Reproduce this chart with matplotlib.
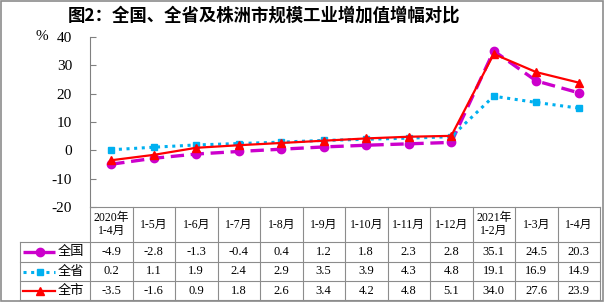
import matplotlib
matplotlib.use("Agg")
import matplotlib.pyplot as plt
from matplotlib.lines import Line2D
from matplotlib.patches import Rectangle
from matplotlib.transforms import blended_transform_factory

plt.rcParams['font.family'] = ['Liberation Serif', 'Noto Sans CJK SC', 'DejaVu Sans']

categories = ["2020年\n1-4月", "1-5月", "1-6月", "1-7月", "1-8月", "1-9月", "1-10月",
              "1-11月", "1-12月", "2021年\n1-2月", "1-3月", "1-4月"]
series_names = ["全国", "全省", "全市"]
national = [-4.9, -2.8, -1.3, -0.4, 0.4, 1.2, 1.8, 2.3, 2.8, 35.1, 24.5, 20.3]
province = [0.2, 1.1, 1.9, 2.4, 2.9, 3.5, 3.9, 4.3, 4.8, 19.1, 16.9, 14.9]
city = [-3.5, -1.6, 0.9, 1.8, 2.6, 3.4, 4.2, 4.8, 5.1, 34.0, 27.6, 23.9]
yticks = [-20, -10, 0, 10, 20, 30, 40]
title = "图2：全国、全省及株洲市规模工业增加值增幅对比"

W, H = 604, 302
fig = plt.figure(figsize=(W / 100, H / 100), dpi=100)

def fx(x):
    return x / W

def fy(y):
    return 1 - y / H

ax_l, ax_r, ax_t, ax_b = 90, 600, 37, 207
ax = fig.add_axes([fx(ax_l), fy(ax_b), (ax_r - ax_l) / W, (ax_b - ax_t) / H])
n = len(categories)
xs = list(range(n))

styles = [
    dict(color='#CC00CC', linestyle=(0, (4, 2)), linewidth=2.4, marker='o', markersize=6),
    dict(color='#00B0F0', linestyle=(0, (1, 1.5)), linewidth=2.2, marker='s', markersize=5),
    dict(color='#FF0000', linestyle='-', linewidth=1.6, marker='^', markersize=6),
]
data = [national, province, city]
for vals, st in zip(data, styles):
    ax.plot(xs, vals, color=st['color'], linestyle=st['linestyle'], linewidth=st['linewidth'],
            marker=st['marker'], markersize=st['markersize'], markerfacecolor=st['color'],
            markeredgecolor=st['color'], clip_on=False, zorder=3)

ax.set_xlim(-0.5, n - 0.5)
ax.set_ylim(-20, 40)
ax.set_yticks(yticks)
ax.set_yticklabels([str(v) for v in yticks], fontsize=11)
ax.tick_params(axis='y', direction='in', length=4, width=0.8, color='#808080', pad=13)
ax.set_xticks([])
for s in ['top', 'right', 'bottom']:
    ax.spines[s].set_visible(False)
ax.spines['left'].set_color('#808080')
ax.spines['left'].set_linewidth(0.8)

fig.text(fx(42), fy(37), "%", fontsize=11, ha='center', va='center')
fig.text(fx(264), fy(16), title, fontsize=12.5, fontweight='bold', ha='center', va='center',
         family=['Noto Sans CJK SC', 'DejaVu Sans'])

# data table
gc = '#8C8C8C'
bt = blended_transform_factory(ax.transData, fig.transFigure)
row_lines = [207, 242, 262, 281, 300]
leg_l = 20
for i, y in enumerate(row_lines):
    if i == 0:
        fig.add_artist(Line2D([-0.5, n - 0.5], [fy(y), fy(y)], transform=bt, color=gc, lw=0.8))
    else:
        fig.add_artist(Line2D([fx(leg_l), fx(ax_r)], [fy(y), fy(y)], transform=fig.transFigure,
                              color=gc, lw=0.8))
for k in range(n + 1):
    xb = k - 0.5
    fig.add_artist(Line2D([xb, xb], [fy(207), fy(300)], transform=bt, color=gc, lw=0.8))
fig.add_artist(Line2D([fx(leg_l), fx(leg_l)], [fy(242), fy(300)], transform=fig.transFigure,
                      color=gc, lw=0.8))

tfont = ['Liberation Serif', 'Noto Sans CJK SC']
for i, c in enumerate(categories):
    fig.text(i, fy(224.5), c, transform=bt, ha='center', va='center', fontsize=8.5,
             family=tfont, linespacing=1.15)

row_c = [252, 271.5, 290.5]
for r, (vals, st, name) in enumerate(zip(data, styles, series_names)):
    yc = fy(row_c[r])
    for i, v in enumerate(vals):
        fig.text(i, yc, f"{v:.1f}", transform=bt, ha='center', va='center', fontsize=9,
                 family=tfont)
    fig.add_artist(Line2D([fx(23), fx(55)], [yc, yc], transform=fig.transFigure,
                          color=st['color'], linestyle=st['linestyle'], linewidth=st['linewidth']))
    fig.add_artist(Line2D([fx(40)], [yc], transform=fig.transFigure, color=st['color'],
                          marker=st['marker'], markersize=st['markersize'], linestyle='none'))
    fig.text(fx(71), yc, name, ha='center', va='center', fontsize=9.5,
             family=['Noto Sans CJK SC', 'DejaVu Sans'])

fig.add_artist(Rectangle((0.001, 0.002), 0.997, 0.995, transform=fig.transFigure, fill=False,
                         edgecolor='#8C8C8C', lw=1.2))

fig.savefig("out.png", dpi=100)
